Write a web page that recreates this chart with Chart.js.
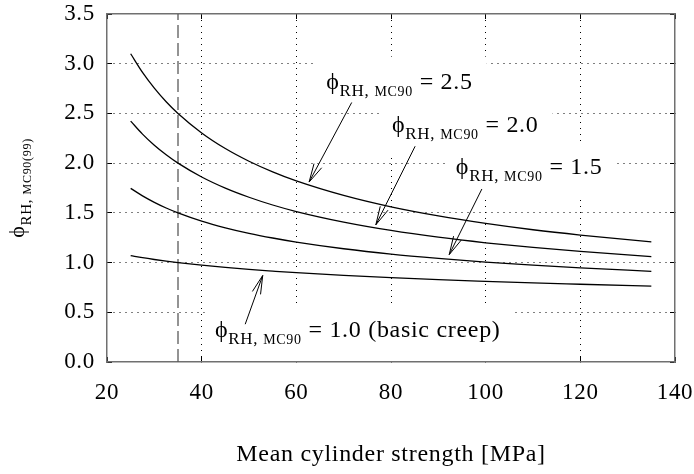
<!DOCTYPE html>
<html>
<head>
<meta charset="utf-8">
<script src="https://cdn.jsdelivr.net/npm/chart.js@4.4.0/dist/chart.umd.min.js"></script>
<style>
  html, body { margin: 0; padding: 0; background: #fff; }
</style>
</head>
<body>
<canvas id="mycanvas" width="694" height="474"></canvas>
<script>
// mean cylinder strength [MPa]
var fcm   = [25, 27.5, 30, 32.5, 35, 40, 45, 50, 55, 60, 70, 80, 90, 100, 110, 120, 135];
// phi_RH,MC90(99)
var phi25 = [3.100, 2.913, 2.755, 2.618, 2.500, 2.304, 2.147, 2.019, 1.912, 1.821, 1.675, 1.560, 1.469, 1.394, 1.330, 1.277, 1.209];
var phi20 = [2.423, 2.292, 2.180, 2.084, 2.000, 1.861, 1.749, 1.657, 1.579, 1.513, 1.407, 1.323, 1.255, 1.199, 1.152, 1.112, 1.060];
var phi15 = [1.746, 1.671, 1.606, 1.549, 1.500, 1.417, 1.350, 1.294, 1.247, 1.206, 1.139, 1.085, 1.042, 1.005, 0.974, 0.947, 0.912];
var phi10 = [1.070, 1.049, 1.031, 1.015, 1.000, 0.974, 0.951, 0.931, 0.914, 0.898, 0.871, 0.848, 0.828, 0.811, 0.795, 0.782, 0.763];
// vertical reference line at fcm = 35
var refX = [35, 35];
var refY = [0, 3.5];

var xTicks = [20, 40, 60, 80, 100, 120, 140];
var yTicks = [0, 0.5, 1.0, 1.5, 2.0, 2.5, 3.0, 3.5];

// labels + arrows, in data units
var notes = [
    {value: '2.5', x: 66.3, y: 2.75, from: [71.7, 2.61], to: [62.7, 1.81]},
    {value: '2.0', x: 80.2, y: 2.31, from: [85.1, 2.17], to: [76.8, 1.38]},
    {value: '1.5', x: 93.7, y: 1.89, from: [99.2, 1.74], to: [92.3, 1.08]},
    {value: '1.0 (basic creep)', x: 42.8, y: 0.25, from: [49.2, 0.38], to: [52.9, 0.87]}
];

var serif = "'Liberation Serif', 'Times New Roman', 'DejaVu Serif', serif";
var PHI = '\u03D5';

function pts(xs, ys) {
    return xs.map(function(v, i){ return {x: v, y: ys[i]}; });
}

function curve(data) {
    return {
        data: data,
        borderColor: '#000',
        borderWidth: 1.3,
        pointRadius: 0,
        fill: false,
        cubicInterpolationMode: 'monotone'
    };
}

// phi with "RH, MC90" subscript, returns width (draws only if doDraw)
function phiText(ctx, x, y, big, s1, s2, sub2, rest, doDraw) {
    var parts = [
        {t: PHI, f: big, dy: 0},
        {t: 'RH, ', f: s1, dy: 7},
        {t: sub2, f: s2, dy: 7},
        {t: rest, f: big, dy: 0}
    ];
    var cx = x;
    parts.forEach(function(p){
        ctx.font = p.f + 'px ' + serif;
        if (doDraw) ctx.fillText(p.t, cx, y + p.dy);
        cx += ctx.measureText(p.t).width;
    });
    return cx - x;
}

function arrow(ctx, x1, y1, x2, y2) {
    var a = Math.atan2(y2 - y1, x2 - x1);
    var len = 19, spread = 0.23;
    ctx.beginPath();
    ctx.moveTo(x1, y1);
    ctx.lineTo(x2, y2);
    ctx.moveTo(x2 - len * Math.cos(a - spread), y2 - len * Math.sin(a - spread));
    ctx.lineTo(x2, y2);
    ctx.lineTo(x2 - len * Math.cos(a + spread), y2 - len * Math.sin(a + spread));
    ctx.stroke();
}

var notesPlugin = {
    id: 'notes',
    beforeDraw: function(chart) {
        if ('letterSpacing' in chart.ctx) chart.ctx.letterSpacing = '0.7px';
    },
    beforeDatasetsDraw: function(chart) {
        // white boxes behind the labels cut the dotted grid
        var ctx = chart.ctx, xs = chart.scales.x, ys = chart.scales.y, ca = chart.chartArea;
        ctx.save();
        ctx.fillStyle = '#fff';
        notes.forEach(function(n){
            var px = xs.getPixelForValue(n.x), py = ys.getPixelForValue(n.y);
            var w = phiText(ctx, px, py, 24, 17, 14, 'MC90', ' = ' + n.value, false);
            var top = Math.max(py - 32, ca.top + 1);
            var bot = Math.min(py + 24, ca.bottom - 1);
            ctx.fillRect(px - 10, top, w + 24, bot - top);
        });
        ctx.restore();
    },
    afterDatasetsDraw: function(chart) {
        var ctx = chart.ctx, xs = chart.scales.x, ys = chart.scales.y;
        ctx.save();
        ctx.fillStyle = '#000';
        ctx.strokeStyle = '#000';
        ctx.lineWidth = 1;
        ctx.textBaseline = 'alphabetic';
        ctx.textAlign = 'left';
        notes.forEach(function(n){
            phiText(ctx, xs.getPixelForValue(n.x), ys.getPixelForValue(n.y), 24, 17, 14, 'MC90', ' = ' + n.value, true);
            arrow(ctx, xs.getPixelForValue(n.from[0]), ys.getPixelForValue(n.from[1]),
                       xs.getPixelForValue(n.to[0]), ys.getPixelForValue(n.to[1]));
        });
        ctx.restore();
    },
    afterDraw: function(chart) {
        // y axis title, rotated
        var ctx = chart.ctx, ca = chart.chartArea;
        ctx.save();
        ctx.fillStyle = '#000';
        ctx.textBaseline = 'alphabetic';
        ctx.textAlign = 'left';
        var w = phiText(ctx, 0, 0, 22, 15, 12, 'MC90(99)', '', false);
        ctx.translate(24, (ca.top + ca.bottom) / 2);
        ctx.rotate(-Math.PI / 2);
        phiText(ctx, -w / 2, 0, 22, 15, 12, 'MC90(99)', '', true);
        ctx.restore();
    }
};

function edgeColor(lo, hi) {
    return function(c) {
        if (!c.tick) return '#000';
        return (c.tick.value === lo || c.tick.value === hi) ? 'rgba(0,0,0,0)' : '#000';
    };
}

// keep the frame where it is: no extra room for overhanging tick labels
function noPad(s) {
    s.paddingTop = 0; s.paddingBottom = 0; s.paddingLeft = 0; s.paddingRight = 0;
}

var ctx = document.getElementById('mycanvas');
var chart = new Chart(ctx, {
    type: 'line',
    data: {
        datasets: [
            curve(pts(fcm, phi25)),
            curve(pts(fcm, phi20)),
            curve(pts(fcm, phi15)),
            curve(pts(fcm, phi10)),
            {
                data: pts(refX, refY),
                borderColor: '#5a5a5a',
                borderWidth: 1.3,
                borderDash: [13, 5],
                pointRadius: 0,
                fill: false
            }
        ]
    },
    options: {
        responsive: false,
        animation: false,
        devicePixelRatio: 1,
        layout: {padding: {top: 14, right: 19, left: 0, bottom: 0}},
        plugins: {legend: {display: false}, tooltip: {enabled: false}},
        scales: {
            x: {
                type: 'linear', position: 'bottom', min: 20, max: 140,
                afterBuildTicks: function(s){ s.ticks = xTicks.map(function(v){ return {value: v}; }); },
                afterFit: function(s){ s.height = 112; noPad(s); },
                grid: {color: edgeColor(20, 140), lineWidth: 1, tickLength: -5, tickColor: '#000', tickWidth: 1},
                border: {color: '#707070', width: 1.5, dash: [1, 5]},
                ticks: {
                    font: {family: serif, size: 23}, color: '#000', padding: 22,
                    maxRotation: 0, autoSkip: false,
                    callback: function(v){ return String(v); }
                },
                title: {
                    display: true, text: 'Mean cylinder strength [MPa]', color: '#000',
                    font: {family: serif, size: 24}, padding: {top: 0, bottom: 5}
                }
            },
            y: {
                type: 'linear', position: 'left', min: 0, max: 3.5,
                afterBuildTicks: function(s){ s.ticks = yTicks.map(function(v){ return {value: v}; }); },
                afterFit: function(s){ s.width = 107; noPad(s); },
                grid: {color: edgeColor(0, 3.5), lineWidth: 1, tickLength: -5, tickColor: '#000', tickWidth: 1},
                border: {color: '#707070', width: 1.5, dash: [1, 5]},
                ticks: {
                    font: {family: serif, size: 23}, color: '#000', padding: 17,
                    callback: function(v){ return v.toFixed(1); }
                }
            },
            x2: {
                type: 'linear', position: 'top', min: 20, max: 140,
                afterBuildTicks: function(s){ s.ticks = xTicks.map(function(v){ return {value: v}; }); },
                afterFit: function(s){ s.height = 0; noPad(s); },
                grid: {drawOnChartArea: false, tickLength: -5, tickColor: '#000', color: '#000'},
                border: {color: '#707070', width: 1.5},
                ticks: {display: false}
            },
            y2: {
                type: 'linear', position: 'right', min: 0, max: 3.5,
                afterBuildTicks: function(s){ s.ticks = yTicks.map(function(v){ return {value: v}; }); },
                afterFit: function(s){ s.width = 0; noPad(s); },
                grid: {drawOnChartArea: false, tickLength: -5, tickColor: '#000', color: '#000'},
                border: {color: '#707070', width: 1.5},
                ticks: {display: false}
            }
        }
    },
    plugins: [notesPlugin]
});
</script>
</body>
</html>
